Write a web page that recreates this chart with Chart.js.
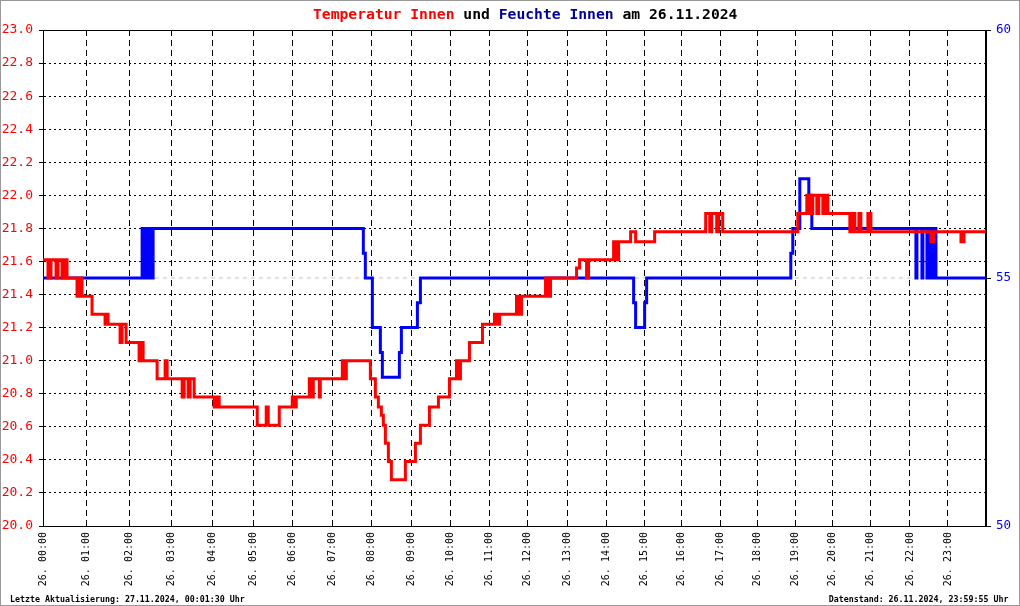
<!DOCTYPE html>
<html><head><meta charset="utf-8">
<script src="https://cdn.jsdelivr.net/npm/chart.js@4.4.1/dist/chart.umd.min.js"></script>
<style>html,body{margin:0;padding:0;background:#fff;}canvas{display:block;}</style>
</head><body>
<canvas id="c" width="1020" height="606"></canvas>
<script>
// x axis = sample number over the day; sample number at which each hour starts
const sampleCount = 942;
const hourTicks = [0, 43, 86, 128, 169, 210, 249, 289, 328, 368, 407, 446, 484, 524, 563, 601, 638, 677, 714, 752, 789, 827, 866, 904];
const hourLabels = ["26. 00:00","26. 01:00","26. 02:00","26. 03:00","26. 04:00","26. 05:00","26. 06:00","26. 07:00","26. 08:00","26. 09:00","26. 10:00","26. 11:00","26. 12:00","26. 13:00","26. 14:00","26. 15:00","26. 16:00","26. 17:00","26. 18:00","26. 19:00","26. 20:00","26. 21:00","26. 22:00","26. 23:00"];

// Temperatur Innen (°C): sample number where value changes, new value
const tempX = [0,5,8,13,15,19,21,24,34,36,39,49,62,63,65,77,79,83,96,98,100,114,122,124,139,141,145,147,151,171,173,176,214,223,225,236,249,251,253,266,268,270,276,277,299,301,303,327,332,335,338,340,342,345,348,362,372,377,386,395,406,413,415,417,426,439,451,453,456,473,476,478,502,504,507,533,536,543,545,570,573,575,587,592,611,662,666,668,673,675,679,754,763,766,769,773,775,779,781,784,806,809,811,815,817,820,824,827,887,890,917,920,942];
const tempY = [21.61,21.5,21.61,21.5,21.61,21.5,21.61,21.5,21.39,21.5,21.39,21.28,21.22,21.28,21.22,21.11,21.22,21.11,21.0,21.11,21.0,20.89,21.0,20.89,20.78,20.89,20.78,20.89,20.78,20.72,20.78,20.72,20.61,20.72,20.61,20.72,20.78,20.72,20.78,20.89,20.78,20.89,20.78,20.89,21.0,20.89,21.0,20.89,20.78,20.72,20.67,20.61,20.5,20.39,20.28,20.39,20.5,20.61,20.72,20.78,20.89,21.0,20.89,21.0,21.11,21.22,21.28,21.22,21.28,21.39,21.28,21.39,21.5,21.39,21.5,21.56,21.61,21.5,21.61,21.72,21.61,21.72,21.78,21.72,21.78,21.89,21.78,21.89,21.78,21.89,21.78,21.89,22.0,21.89,22.0,21.89,22.0,21.89,22.0,21.89,21.78,21.89,21.78,21.89,21.78,21.78,21.89,21.78,21.72,21.78,21.72,21.78,21.78];

// Feuchte Innen (%)
const humX = [0,99,102,105,108,110,320,322,329,337,339,356,358,374,377,590,592,601,603,747,749,756,765,768,872,873,878,879,883,884,886,887,889,890,892,942];
const humY = [55,56,55,56,55,56,55.5,55,54,53.5,53,53.5,54,54.5,55,54.5,54,54.5,55,55.5,56,57,56.67,56,55,56,55,56,55,56,55,56,55,56,55,55];

const humRef = 55;
const tempTicks = {min: 20, max: 23, step: 0.2};
const humTicks = {min: 50, max: 60, step: 5};

const titleParts = [["Temperatur Innen ", "#ff0000"], ["und ", "#000000"], ["Feuchte Innen ", "#000099"], ["am 26.11.2024", "#000000"]];
const footLeft = "Letzte Aktualisierung: 27.11.2024, 00:01:30 Uhr";
const footRight = "Datenstand: 26.11.2024, 23:59:55 Uhr";

const MONO = '"DejaVu Sans Mono", "Liberation Mono", monospace';

const decor = {
  id: 'decor',
  beforeDatasetsDraw(chart) {
    const {ctx, chartArea: a} = chart;
    ctx.save();
    ctx.strokeStyle = '#000'; ctx.lineWidth = 1;
    ctx.strokeRect(Math.round(a.left) + 0.5, Math.round(a.top) + 0.5, Math.round(a.right - a.left) - 1, Math.round(a.bottom - a.top));
    ctx.restore();
  },
  afterDraw(chart) {
    const ctx = chart.ctx;
    ctx.save();
    ctx.font = 'bold 14.7px ' + MONO;
    ctx.textBaseline = 'alphabetic';
    ctx.textAlign = 'left';
    let x = 313;
    for (const [t, c] of titleParts) { ctx.fillStyle = c; ctx.fillText(t, x, 18.5); x += ctx.measureText(t).width; }
    ctx.font = 'bold 8.3px ' + MONO;
    ctx.fillStyle = '#000';
    ctx.fillText(footLeft, 10, 601.5);
    ctx.textAlign = 'right';
    ctx.fillText(footRight, 1008.5, 601.5);
    ctx.strokeStyle = '#999'; ctx.lineWidth = 1;
    ctx.strokeRect(0.5, 0.5, 1019, 605);
    ctx.restore();
  }
};

new Chart(document.getElementById('c'), {
  type: 'line',
  data: {
    datasets: [
      {label: 'Temperatur Innen', data: tempX.map((x, i) => ({x, y: tempY[i]})), yAxisID: 'y', borderColor: '#ff0000', borderWidth: 3, stepped: true, pointRadius: 0, order: 0, borderJoinStyle: 'miter'},
      {label: 'Feuchte Innen', data: humX.map((x, i) => ({x, y: humY[i]})), yAxisID: 'y2', borderColor: '#0000ff', borderWidth: 3, stepped: true, pointRadius: 0, order: 1, borderJoinStyle: 'miter'},
      {label: 'ref', data: [{x: 0, y: humRef}, {x: sampleCount, y: humRef}], yAxisID: 'y2', borderColor: '#c4c4c4', borderWidth: 1, borderDash: [4, 4], pointRadius: 0, order: 2}
    ]
  },
  options: {
    responsive: false, animation: false, devicePixelRatio: 1,
    layout: {padding: {top: 30, left: 0, right: 0, bottom: 0}},
    plugins: {legend: {display: false}, tooltip: {enabled: false}, title: {display: false}},
    scales: {
      x: {
        type: 'linear', min: 0, max: sampleCount,
        afterBuildTicks: s => { s.ticks = hourTicks.map(v => ({value: v})); },
        afterFit: s => { s.height = 80; },
        ticks: {autoSkip: false, minRotation: 90, maxRotation: 90, padding: 6, color: '#000', font: {family: MONO, size: 10},
          callback: v => { const i = hourTicks.indexOf(v); return i >= 0 ? hourLabels[i] : ''; }},
        grid: {color: '#000', lineWidth: 1, drawTicks: false},
        border: {display: true, color: '#000', width: 1, dash: [6, 4]}
      },
      y: {
        position: 'left', min: tempTicks.min, max: tempTicks.max,
        afterFit: s => { s.width = 43; },
        ticks: {stepSize: tempTicks.step, padding: 6, color: '#ff0000', font: {family: MONO, size: 13}, callback: v => Number(v).toFixed(1)},
        grid: {color: '#000', lineWidth: 1, drawTicks: true, tickLength: 4, tickColor: '#000'},
        border: {display: true, color: '#000', width: 1, dash: [2, 3]}
      },
      y2: {
        position: 'right', min: humTicks.min, max: humTicks.max,
        afterFit: s => { s.width = 34; },
        ticks: {stepSize: humTicks.step, padding: 5, color: '#0000ff', font: {family: MONO, size: 12.5}},
        grid: {drawOnChartArea: false, drawTicks: true, tickLength: 5, color: '#000', tickColor: '#000'},
        border: {display: true, color: '#000', width: 1}
      }
    }
  },
  plugins: [decor]
});
</script>
</body></html>
